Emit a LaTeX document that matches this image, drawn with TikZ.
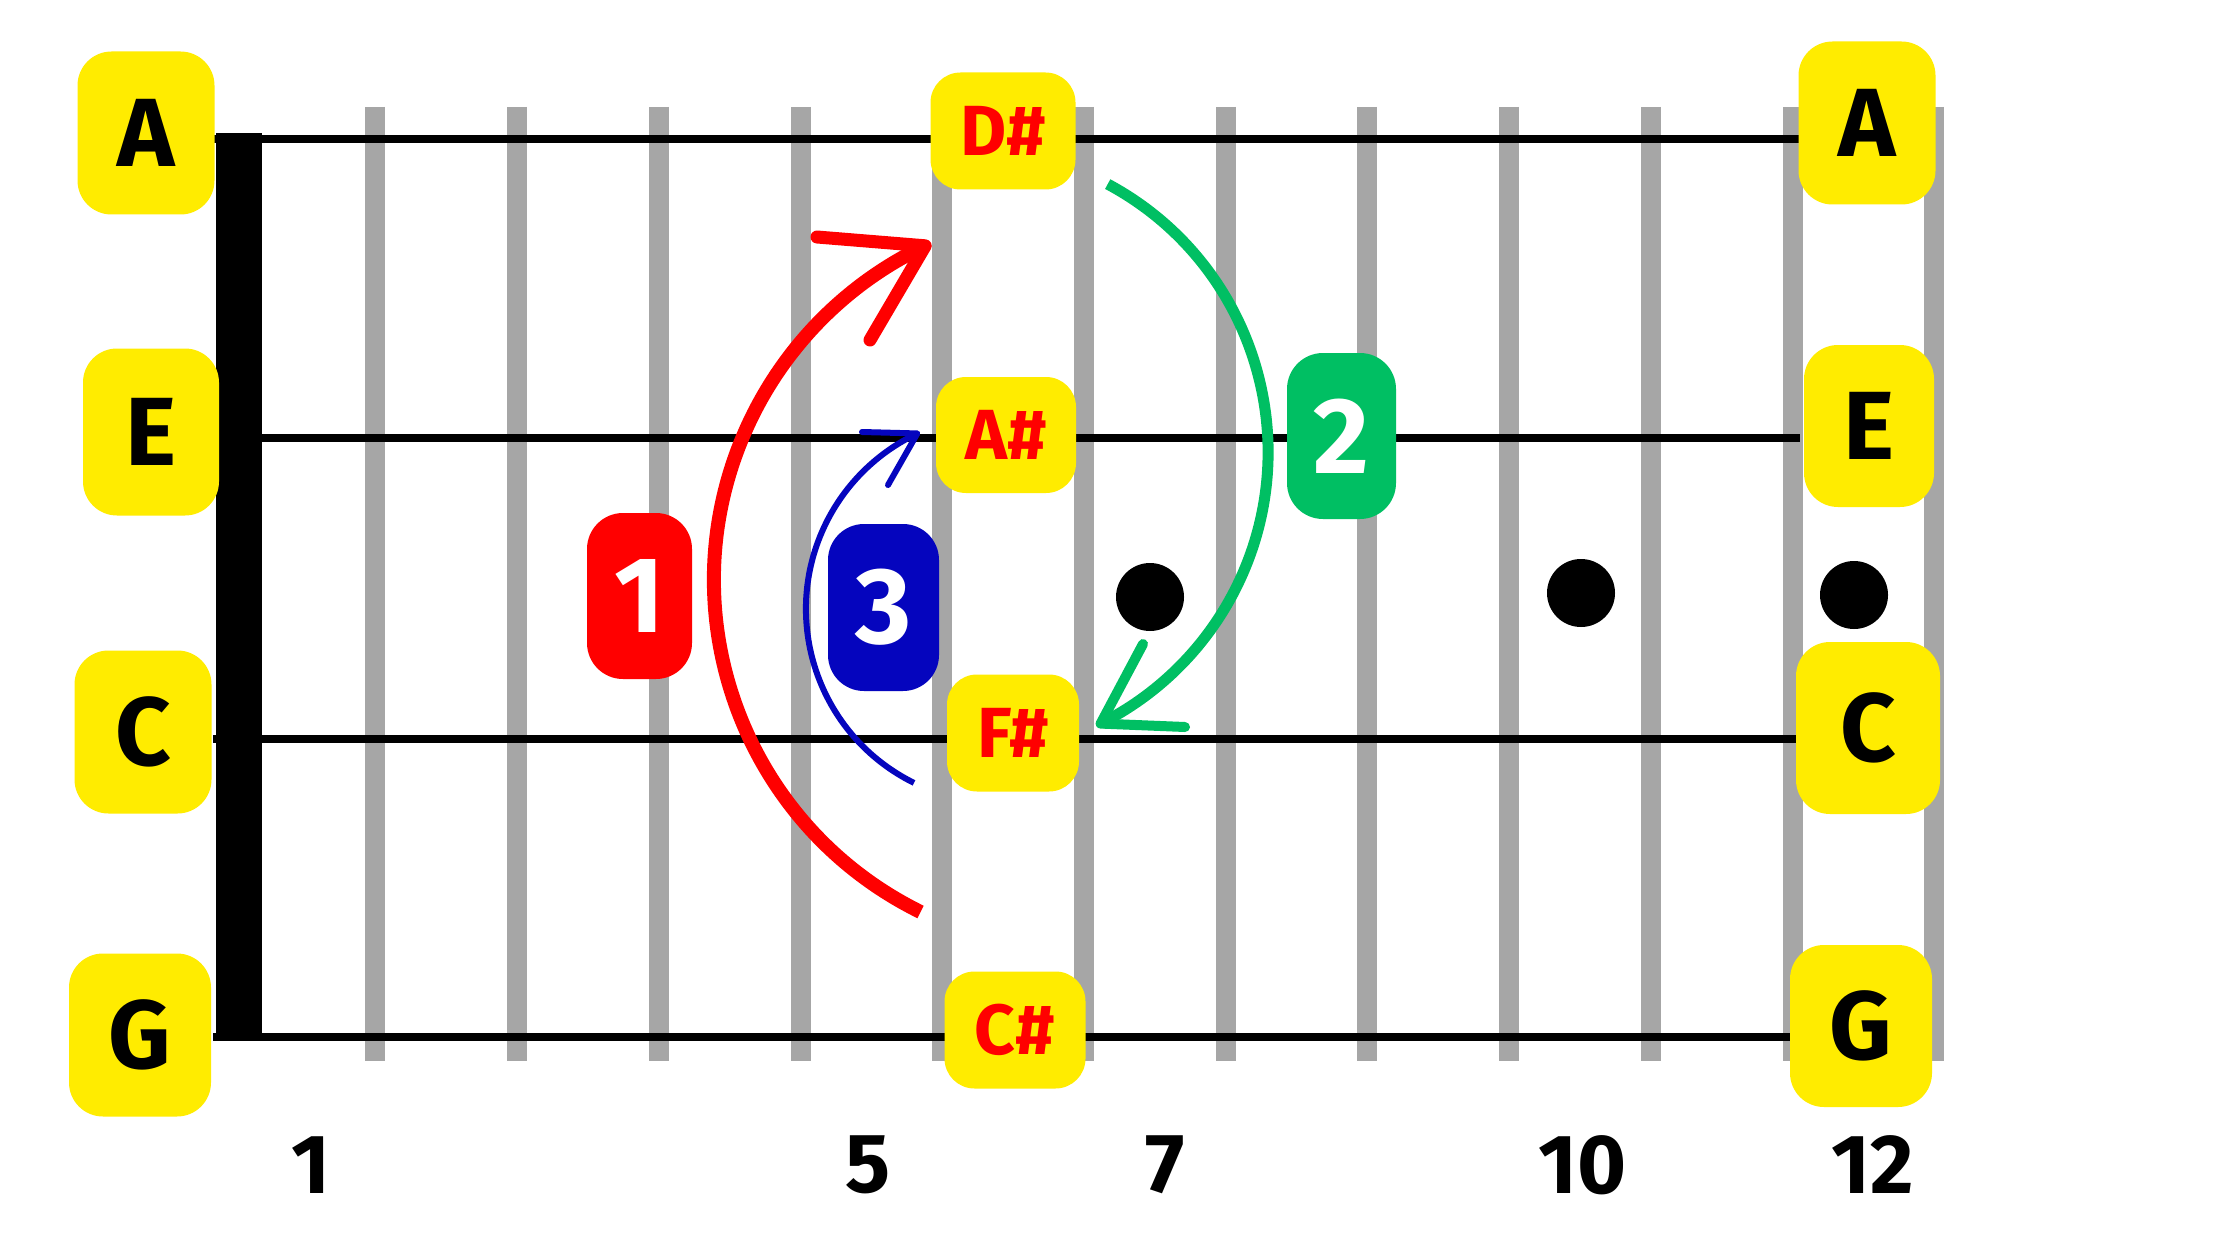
\documentclass[tikz,border=0pt]{standalone}
\usepackage{fontspec}
\setmainfont{Fira Sans}
\definecolor{nyellow}{RGB}{255,236,0}
\definecolor{nred}{RGB}{255,0,0}
\definecolor{nblue}{RGB}{5,5,190}
\definecolor{ngreen}{RGB}{0,191,99}
\definecolor{fretgray}{RGB}{166,166,166}
\begin{document}
\begin{tikzpicture}[x=1pt,y=-1pt,
  lab/.style={fill=nyellow, rounded corners=34pt, inner sep=0pt, font=\fontsize{97}{97}\selectfont\bfseries},
  mid/.style={fill=nyellow, rounded corners=30pt, inner sep=0pt, text=nred, font=\fontsize{71}{71}\selectfont\bfseries},
  badge/.style={rounded corners=36pt, inner sep=0pt, text=white, font=\fontsize{108}{108}\selectfont\bfseries},
  fnum/.style={font=\fontsize{84}{84}\selectfont\bfseries},
  fretline/.style={line width=20pt, draw=fretgray},
  gstring/.style={line width=8pt, draw=black},
  dotmark/.style={circle, fill=black, minimum size=68pt, inner sep=0pt},
]
\fill[white] (0,0) rectangle (2240,1260);
\useasboundingbox (0,0) rectangle (2240,1260);
% frets
\foreach \x in {375,517,659,801,942,1084,1226,1367,1509,1651,1793,1934}
  \draw[fretline] (\x,107) -- (\x,1061);
% strings
\foreach \y in {138.6,438,738.5,1037}
  \draw[gstring] (213,\y) -- (1800,\y);
% nut
\fill[black] (216,133) rectangle (262,1041);
% dots
\node[dotmark] (d1) at (1150,597) {};
\node[dotmark] (d2) at (1581,593) {};
\node[dotmark] (d3) at (1854,595) {};
% open string labels
\node[lab, minimum width=137pt, minimum height=163pt] (lA) at (146,133) {A};
\node[lab, minimum width=136pt, minimum height=167pt] (lE) at (151,432) {E};
\node[lab, minimum width=137pt, minimum height=163pt] (lC) at (143,732) {C};
\node[lab, minimum width=142pt, minimum height=163pt] (lG) at (140,1035) {G};
\node[lab, minimum width=137pt, minimum height=163pt] (rA) at (1867,123) {A};
\node[lab, minimum width=130pt, minimum height=162pt] (rE) at (1869,426) {E};
\node[lab, minimum width=144pt, minimum height=172pt] (rC) at (1868,728) {C};
\node[lab, minimum width=142pt, minimum height=162pt] (rG) at (1861,1026) {G};
% middle notes
\node[mid, minimum width=145pt, minimum height=117pt] (mD) at (1003,131) {D\#};
\node[mid, minimum width=140pt, minimum height=116pt] (mA) at (1006,435) {A\#};
\node[mid, minimum width=132pt, minimum height=117pt] (mF) at (1013,733) {F\#};
\node[mid, minimum width=141pt, minimum height=117pt] (mC) at (1015,1030) {C\#};
% arcs
\coordinate (r1s) at (920.6,912);
\draw[nred, line width=14pt] (r1s) arc[start angle=116.2, end angle=244.6, radius=370] coordinate (r1e);
\coordinate (r1a) at (817,237);
\coordinate (r1b) at (870,340);
\draw[nred, line width=13pt, line cap=round, line join=round] (r1a) -- (r1e) -- (r1b);
\coordinate (b3s) at (914,782.9);
\draw[nblue, line width=6pt] (b3s) arc[start angle=116.3, end angle=244.8, radius=194] coordinate (b3e);
\coordinate (b3a) at (862,432);
\coordinate (b3b) at (888,485);
\draw[nblue, line width=6pt, line cap=round, line join=round] (b3a) -- (b3e) -- (b3b);
\coordinate (g2s) at (1107.7,184.1);
\draw[ngreen, line width=11pt] (g2s) arc[start angle=-61.8, end angle=63.3, radius=304] coordinate (g2e);
\coordinate (g2a) at (1185,727);
\coordinate (g2b) at (1143,644);
\draw[ngreen, line width=10pt, line cap=round, line join=round] (g2a) -- (g2e) -- (g2b);
% badges
\node[badge, fill=nred, minimum width=105pt, minimum height=166pt] (b1) at (639.5,596) {1};
\node[badge, fill=nblue, minimum width=111pt, minimum height=167pt] (b3) at (883.5,607.5) {3};
\node[badge, fill=ngreen, minimum width=109pt, minimum height=166pt] (b2) at (1341.5,436) {2};
% fret numbers
\node[fnum] (f1) at (311,1165) {1};
\node[fnum] (f5) at (868,1165) {5};
\node[fnum] (f7) at (1165,1165) {7};
\node[fnum] (f10) at (1583,1165) {10};
\node[fnum] (f12) at (1873,1165) {12};
\end{tikzpicture}
\end{document}
